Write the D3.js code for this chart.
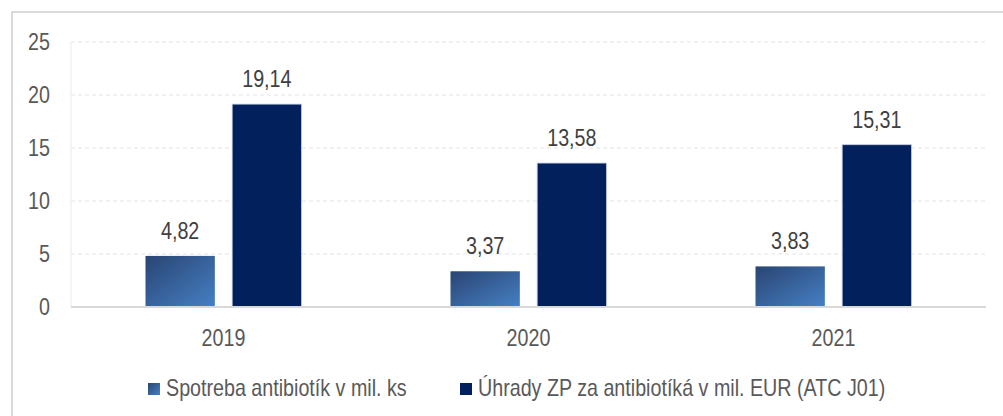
<!DOCTYPE html>
<html>
<head>
<meta charset="utf-8">
<script src="https://cdn.jsdelivr.net/npm/d3@7"></script>
<style>
  body { margin: 0; background: #fff; }
  svg text { font-family: "Liberation Sans Narrow", "Arial Narrow", "Liberation Sans", Arial, sans-serif; fill: #595959; }
</style>
</head>
<body>
<svg id="chart" width="1003" height="416"></svg>
<script>
// data
var years = ["2019", "2020", "2021"];
var series = ["Spotreba antibiotík v mil. ks", "Úhrady ZP za antibiotíká v mil. EUR (ATC J01)"];
var spotreba = [4.82, 3.37, 3.83];
var uhrady = [19.14, 13.58, 15.31];
var yTicks = [0, 5, 10, 15, 20, 25];

var svg = d3.select("#chart"),
    margin = { top: 42, right: 17, bottom: 109, left: 71 },
    width = +svg.attr("width") - margin.left - margin.right,
    height = +svg.attr("height") - margin.top - margin.bottom;

var fmt = function (v) { return d3.format(".2f")(v).replace(".", ","); };
var fs = "24px";

// gradient pre svetle stlpce
var defs = svg.append("defs");
var grad = defs.append("linearGradient")
    .attr("id", "lightGrad")
    .attr("x1", "0%").attr("y1", "0%")
    .attr("x2", "100%").attr("y2", "100%");
grad.append("stop").attr("offset", "0%").attr("stop-color", "#2a4573");
grad.append("stop").attr("offset", "100%").attr("stop-color", "#4580c4");

// ramcek okolo grafu
svg.append("path")
    .attr("d", "M12,416 V12 H1003")
    .attr("fill", "none")
    .attr("stroke", "#d9d9d9")
    .attr("stroke-width", 2);

var g = svg.append("g")
    .attr("transform", "translate(" + margin.left + "," + margin.top + ")");

var x0 = d3.scaleBand().domain(years).range([0, width]).paddingInner(0);
var groupW = 156;
var x1 = d3.scaleBand().domain(series).range([0, groupW]).paddingInner(0.2);
var y = d3.scaleLinear().domain([0, 25]).range([height, 0]);

// mriezka
g.append("g")
    .selectAll("line")
    .data(yTicks.filter(function (d) { return d > 0; }))
    .enter().append("line")
    .attr("x1", 0).attr("x2", width)
    .attr("y1", function (d) { return y(d); })
    .attr("y2", function (d) { return y(d); })
    .attr("stroke", "#e3e3e3")
    .attr("stroke-width", 1)
    .attr("stroke-dasharray", "4,3");

// zvisla os
g.append("line")
    .attr("x1", 0).attr("x2", 0)
    .attr("y1", 0).attr("y2", height)
    .attr("stroke", "#ececec");

// y popisky
var yAxis = g.append("g")
    .attr("class", "y axis")
    .call(d3.axisLeft(y).tickValues(yTicks).tickSize(0).tickPadding(21));
yAxis.select(".domain").remove();
yAxis.selectAll("text").style("font-size", fs).attr("fill", "#595959");

var data = years.map(function (yr, i) {
    return { year: yr, values: [
        { key: series[0], value: spotreba[i] },
        { key: series[1], value: uhrady[i] }
    ] };
});

var groups = g.selectAll(".grp")
    .data(data)
    .enter().append("g")
    .attr("class", "grp")
    .attr("transform", function (d) {
        return "translate(" + (x0(d.year) + (x0.bandwidth() - groupW) / 2) + ",0)";
    });

groups.selectAll("rect")
    .data(function (d) { return d.values; })
    .enter().append("rect")
    .attr("x", function (d) { return x1(d.key); })
    .attr("y", function (d) { return y(d.value); })
    .attr("width", x1.bandwidth())
    .attr("height", function (d) { return height - y(d.value); })
    .attr("fill", function (d, i) { return i === 0 ? "url(#lightGrad)" : "#02205c"; })
    .attr("stroke", function (d, i) { return i === 0 ? "none" : "#c5cde0"; })
    .attr("stroke-width", 0.8);

groups.selectAll(".val")
    .data(function (d) { return d.values; })
    .enter().append("text")
    .attr("class", "val")
    .attr("x", function (d) { return x1(d.key) + x1.bandwidth() / 2; })
    .attr("y", function (d) { return y(d.value) - 17; })
    .attr("text-anchor", "middle")
    .style("font-size", fs)
    .style("fill", "#404040")
    .text(function (d) { return fmt(d.value); });

// os x
g.append("line")
    .attr("x1", 0).attr("x2", width)
    .attr("y1", height).attr("y2", height)
    .attr("stroke", "#d9d9d9")
    .attr("stroke-width", 2);

var xAxis = g.append("g")
    .attr("transform", "translate(0," + height + ")")
    .call(d3.axisBottom(x0).tickSize(0).tickPadding(22));
xAxis.select(".domain").remove();
xAxis.selectAll("text").style("font-size", fs).attr("fill", "#595959");

// legenda
var legendPos = [148, 460];
var legend = svg.selectAll(".leg")
    .data(series)
    .enter().append("g")
    .attr("class", "leg")
    .attr("transform", function (d, i) { return "translate(" + legendPos[i] + ",383)"; });
legend.append("rect")
    .attr("width", 12).attr("height", 12)
    .attr("fill", function (d, i) { return i === 0 ? "url(#lightGrad)" : "#02205c"; });
legend.append("text")
    .attr("x", 18)
    .attr("y", 13)
    .style("font-size", fs)
    .text(function (d) { return d; });

// uzky font nie je - zuzime texty horizontalne
svg.selectAll("text").each(function () {
    var w = this.getComputedTextLength();
    d3.select(this).attr("textLength", w * 0.82).attr("lengthAdjust", "spacingAndGlyphs");
});
</script>
</body>
</html>
